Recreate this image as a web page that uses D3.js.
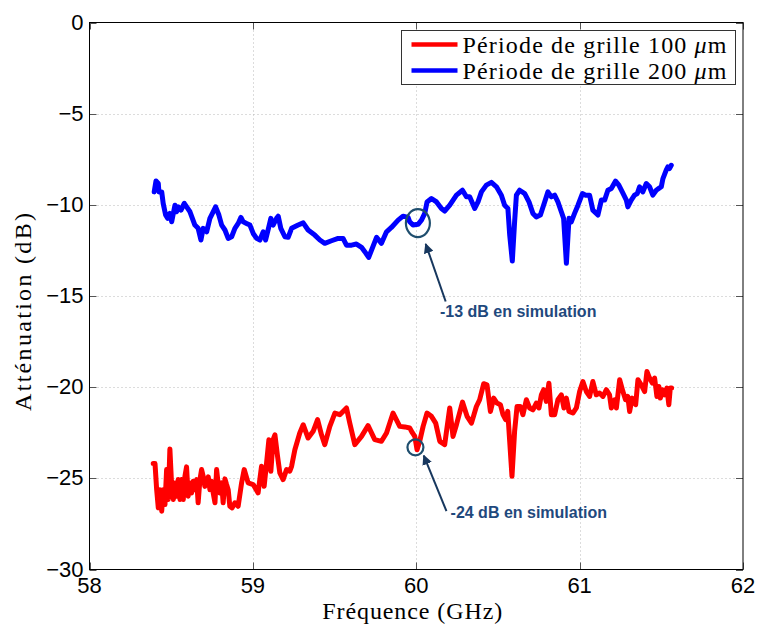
<!DOCTYPE html>
<html>
<head>
<meta charset="utf-8">
<script src="https://cdn.jsdelivr.net/npm/d3@7"></script>
<style>
  html, body { margin: 0; padding: 0; background: #fff; }
  svg { display: block; }
  .tick-label { font-family: "Liberation Sans", Arial, sans-serif; font-size: 22px; fill: #000; }
  .axis-title { font-family: "Liberation Serif", "Times New Roman", serif; font-size: 24px; fill: #000; }
  .legend-text { font-family: "Liberation Serif", "Times New Roman", serif; font-size: 24px; fill: #000; }
  .note { font-family: "Liberation Sans", Arial, sans-serif; font-size: 16px; font-weight: bold; fill: #1f497d; }
</style>
</head>
<body>
<div id="chart"></div>
<script>
// Période de grille 200 µm (bleu)
const freq200 = [58.396, 58.407, 58.421, 58.425, 58.442, 58.451, 58.466, 58.478, 58.492, 58.503,
  58.523, 58.533, 58.543, 58.560, 58.580, 58.601, 58.615, 58.645, 58.665, 58.682,
  58.696, 58.717, 58.737, 58.747, 58.772, 58.792, 58.809, 58.829, 58.849, 58.870,
  58.890, 58.910, 58.927, 58.941, 58.961, 58.982, 59.002, 59.023, 59.043, 59.063,
  59.078, 59.098, 59.110, 59.124, 59.145, 59.155, 59.171, 59.196, 59.216, 59.237,
  59.277, 59.308, 59.338, 59.379, 59.410, 59.440, 59.481, 59.522, 59.552, 59.573,
  59.604, 59.634, 59.665, 59.685, 59.709, 59.736, 59.757, 59.787, 59.818, 59.848,
  59.889, 59.919, 59.950, 59.960, 59.980, 60.011, 60.032, 60.052, 60.066, 60.093,
  60.124, 60.154, 60.174, 60.205, 60.246, 60.283, 60.307, 60.327, 60.358, 60.378,
  60.399, 60.429, 60.460, 60.491, 60.521, 60.541, 60.561, 60.572, 60.588, 60.602,
  60.613, 60.633, 60.664, 60.690, 60.714, 60.735, 60.760, 60.786, 60.806, 60.827,
  60.847, 60.867, 60.888, 60.902, 60.919, 60.935, 60.949, 60.969, 60.990, 61.017,
  61.037, 61.061, 61.081, 61.112, 61.133, 61.153, 61.173, 61.194, 61.220, 61.240,
  61.261, 61.286, 61.295, 61.316, 61.336, 61.353, 61.367, 61.387, 61.408, 61.428,
  61.448, 61.469, 61.485, 61.500, 61.510, 61.530, 61.540, 61.550, 61.561];
const att200 = [-9.29, -8.69, -8.83, -9.29, -9.29, -9.92, -10.56, -10.74, -10.47, -10.93,
  -10.02, -10.38, -10.11, -10.29, -9.92, -10.20, -10.38, -11.11, -11.29, -11.93,
  -11.29, -11.48, -10.74, -10.56, -10.11, -10.56, -11.11, -11.38, -11.84, -11.75,
  -11.29, -11.02, -10.69, -10.93, -11.02, -11.11, -11.57, -11.84, -11.93, -11.48,
  -11.93, -11.20, -10.74, -11.11, -10.74, -10.62, -11.29, -11.75, -11.78, -11.29,
  -11.11, -10.99, -11.38, -11.66, -11.93, -12.11, -11.97, -11.84, -11.84, -12.21,
  -12.21, -12.15, -12.33, -12.57, -12.88, -12.26, -11.78, -12.11, -11.48, -11.24,
  -10.84, -10.62, -10.69, -10.93, -11.11, -11.07, -10.84, -10.47, -9.84, -9.65,
  -9.84, -10.20, -10.34, -10.02, -9.47, -9.20, -9.56, -9.56, -10.20, -9.84,
  -9.29, -8.92, -8.77, -9.01, -9.47, -10.02, -10.20, -11.66, -13.08, -10.93,
  -9.47, -9.20, -9.38, -9.84, -10.47, -10.66, -10.56, -9.84, -9.29, -9.56,
  -9.47, -9.84, -10.38, -10.74, -13.21, -10.74, -10.93, -10.47, -10.02, -9.38,
  -9.47, -9.47, -10.29, -10.56, -9.74, -9.74, -9.20, -9.10, -8.70, -8.92,
  -9.29, -9.74, -10.11, -9.74, -9.47, -9.38, -9.01, -9.29, -8.83, -9.01,
  -9.47, -9.20, -9.10, -9.01, -8.56, -8.10, -7.92, -8.01, -7.83];

// Période de grille 100 µm (rouge)
const freq100 = [58.390, 58.401, 58.411, 58.421, 58.431, 58.442, 58.451, 58.462, 58.472, 58.482,
  58.492, 58.503, 58.513, 58.523, 58.533, 58.543, 58.554, 58.564, 58.574, 58.584,
  58.594, 58.604, 58.615, 58.625, 58.635, 58.645, 58.656, 58.665, 58.676, 58.686,
  58.696, 58.706, 58.717, 58.727, 58.737, 58.747, 58.757, 58.768, 58.778, 58.788,
  58.798, 58.809, 58.818, 58.829, 58.839, 58.849, 58.859, 58.873, 58.890, 58.910,
  58.931, 58.947, 58.971, 59.002, 59.032, 59.053, 59.069, 59.084, 59.098, 59.110,
  59.124, 59.135, 59.151, 59.165, 59.185, 59.206, 59.226, 59.237, 59.257, 59.287,
  59.308, 59.338, 59.369, 59.396, 59.420, 59.440, 59.471, 59.502, 59.532, 59.573,
  59.593, 59.624, 59.665, 59.705, 59.746, 59.787, 59.818, 59.858, 59.899, 59.930,
  59.960, 59.977, 59.991, 60.005, 60.021, 60.042, 60.066, 60.093, 60.119, 60.144,
  60.174, 60.205, 60.225, 60.246, 60.283, 60.311, 60.338, 60.368, 60.388, 60.413,
  60.433, 60.454, 60.474, 60.494, 60.515, 60.531, 60.547, 60.560, 60.572, 60.586,
  60.602, 60.617, 60.637, 60.653, 60.674, 60.694, 60.714, 60.735, 60.751, 60.766,
  60.780, 60.796, 60.812, 60.827, 60.847, 60.867, 60.888, 60.904, 60.919, 60.935,
  60.959, 60.980, 61.000, 61.020, 61.041, 61.061, 61.081, 61.102, 61.122, 61.143,
  61.163, 61.183, 61.194, 61.214, 61.225, 61.245, 61.265, 61.281, 61.295, 61.306,
  61.322, 61.343, 61.357, 61.377, 61.398, 61.412, 61.428, 61.445, 61.459, 61.473,
  61.485, 61.494, 61.506, 61.520, 61.534, 61.546, 61.555, 61.563];
const att100 = [-24.19, -24.19, -25.62, -26.62, -25.62, -26.80, -25.62, -26.44, -24.52, -26.16,
  -23.39, -25.44, -26.16, -25.25, -25.98, -25.07, -26.16, -25.07, -26.16, -24.89,
  -24.37, -25.98, -25.25, -25.80, -25.16, -25.62, -25.07, -26.34, -25.07, -24.52,
  -24.89, -25.44, -25.25, -24.92, -25.62, -25.16, -25.80, -26.34, -24.52, -25.34,
  -25.80, -25.25, -26.34, -25.03, -25.34, -25.62, -26.53, -26.62, -26.34, -26.53,
  -25.25, -24.52, -25.25, -25.34, -25.80, -24.34, -25.44, -24.15, -22.88, -24.61,
  -22.88, -22.61, -23.79, -24.70, -25.07, -24.52, -24.61, -24.34, -23.43, -22.51,
  -22.06, -22.79, -22.42, -21.78, -22.61, -23.15, -22.15, -21.42, -21.51, -21.14,
  -21.97, -23.15, -22.70, -22.11, -22.88, -22.97, -22.51, -21.42, -22.15, -22.18,
  -22.24, -22.51, -22.70, -23.43, -22.97, -22.15, -21.42, -21.60, -21.97, -22.97,
  -23.15, -21.14, -22.70, -22.06, -20.82, -21.60, -21.97, -21.06, -20.69, -19.81,
  -19.87, -21.33, -20.60, -20.87, -20.96, -21.51, -21.78, -21.33, -22.97, -24.89,
  -22.42, -21.06, -21.06, -21.51, -20.69, -21.14, -21.24, -20.87, -21.14, -20.42,
  -20.14, -20.78, -19.78, -21.51, -21.51, -20.69, -20.42, -21.14, -20.60, -21.33,
  -21.42, -21.14, -20.24, -19.69, -20.24, -20.51, -19.69, -20.42, -20.32, -20.51,
  -20.14, -20.42, -21.14, -20.69, -21.14, -19.59, -20.24, -20.69, -20.51, -21.33,
  -20.60, -20.96, -19.59, -19.87, -20.24, -19.14, -19.50, -19.78, -19.50, -20.51,
  -19.96, -20.60, -20.14, -20.42, -20.05, -20.96, -20.05, -20.05];

const xTicks = [58, 59, 60, 61, 62];
const yTicks = [0, -5, -10, -15, -20, -25, -30];
const seriesNames = ["Période de grille 100 ", "Période de grille 200 "];
const seriesColors = ["#ff0000", "#0000ff"];
const notes = ["-13 dB en simulation", "-24 dB en simulation"];

const width = 758, height = 628;
const margin = { top: 22.5, right: 15, bottom: 58.5, left: 89.5 };

const svg = d3.select("#chart").append("svg")
  .attr("width", width)
  .attr("height", height);

const x = d3.scaleLinear().domain([58, 62]).range([margin.left, width - margin.right]);
const y = d3.scaleLinear().domain([-30, 0]).range([height - margin.bottom, margin.top]);

// grid
const grid = svg.append("g").attr("stroke", "#b8b8b8").attr("stroke-width", 1)
  .attr("stroke-dasharray", "1,3");
grid.selectAll(".gx").data(xTicks.slice(1, -1)).join("line")
  .attr("x1", d => Math.round(x(d)) + 0.5).attr("x2", d => Math.round(x(d)) + 0.5)
  .attr("y1", y(0)).attr("y2", y(-30));
grid.selectAll(".gy").data(yTicks.slice(1, -1)).join("line")
  .attr("y1", d => Math.round(y(d)) + 0.5).attr("y2", d => Math.round(y(d)) + 0.5)
  .attr("x1", x(58)).attr("x2", x(62));

// inner ticks
const ticks = svg.append("g").attr("stroke", "#555").attr("stroke-width", 1);
xTicks.forEach(d => {
  const px = Math.round(x(d)) + 0.5;
  ticks.append("line").attr("x1", px).attr("x2", px).attr("y1", y(-30)).attr("y2", y(-30) - 7);
  ticks.append("line").attr("x1", px).attr("x2", px).attr("y1", y(0)).attr("y2", y(0) + 7);
});
yTicks.forEach(d => {
  const py = Math.round(y(d)) + 0.5;
  ticks.append("line").attr("y1", py).attr("y2", py).attr("x1", x(58)).attr("x2", x(58) + 7);
  ticks.append("line").attr("y1", py).attr("y2", py).attr("x1", x(62)).attr("x2", x(62) - 7);
});

// data lines
const line = d3.line().x(d => x(d[0])).y(d => y(d[1]));
const series = [d3.zip(freq100, att100), d3.zip(freq200, att200)];
svg.append("g").selectAll("path").data(series).join("path")
  .attr("d", line)
  .attr("fill", "none")
  .attr("stroke", (d, i) => seriesColors[i])
  .attr("stroke-width", 5)
  .attr("stroke-linejoin", "round")
  .attr("stroke-linecap", "round");

// axes box
svg.append("rect")
  .attr("x", x(58)).attr("y", y(0))
  .attr("width", x(62) - x(58)).attr("height", y(-30) - y(0))
  .attr("fill", "none").attr("stroke", "#000").attr("stroke-width", 1);

// tick labels
const fmt = d3.format("d");
svg.append("g").selectAll("text").data(xTicks).join("text")
  .attr("class", "tick-label")
  .attr("x", d => x(d)).attr("y", y(-30) + 23)
  .attr("text-anchor", "middle")
  .text(fmt);
svg.append("g").selectAll("text").data(yTicks).join("text")
  .attr("class", "tick-label")
  .attr("x", x(58) - 6).attr("y", d => y(d) + 7)
  .attr("text-anchor", "end")
  .text(fmt);

// axis titles
svg.append("text").attr("class", "axis-title")
  .attr("x", (x(58) + x(62)) / 2 - 4).attr("y", 619)
  .attr("text-anchor", "middle")
  .attr("textLength", 180).attr("lengthAdjust", "spacing")
  .text("Fréquence (GHz)");
svg.append("text").attr("class", "axis-title")
  .attr("transform", `translate(31,${(y(0) + y(-30)) / 2 + 16}) rotate(-90)`)
  .attr("text-anchor", "middle")
  .attr("textLength", 198).attr("lengthAdjust", "spacing")
  .text("Atténuation (dB)");

// legend
const lg = svg.append("g").attr("transform", "translate(401.5,30.5)");
lg.append("rect").attr("width", 334).attr("height", 54)
  .attr("fill", "#fff").attr("stroke", "#333").attr("stroke-width", 1);
seriesNames.forEach((name, i) => {
  const ly = 14 + i * 26;
  lg.append("line").attr("x1", 10).attr("x2", 56).attr("y1", ly).attr("y2", ly)
    .attr("stroke", seriesColors[i]).attr("stroke-width", 4.5);
  const t = lg.append("text").attr("class", "legend-text").attr("x", 61).attr("y", ly + 8)
    .attr("textLength", 264).attr("lengthAdjust", "spacing");
  t.append("tspan").text(name);
  t.append("tspan").attr("font-style", "italic").text("μ");
  t.append("tspan").text("m");
});

// annotations
const noteColor = "#1f4e6e";
const defs = svg.append("defs");
defs.append("marker").attr("id", "arrow")
  .attr("viewBox", "0 0 10 10").attr("refX", 9).attr("refY", 5)
  .attr("markerWidth", 5).attr("markerHeight", 5).attr("orient", "auto")
  .append("path").attr("d", "M0,0 L10,5 L0,10 z").attr("fill", "#17375e");

const ann = svg.append("g");
ann.append("ellipse")
  .attr("cx", x(60.01)).attr("cy", y(-11.0)).attr("rx", 12).attr("ry", 14)
  .attr("fill", "none").attr("stroke", noteColor).attr("stroke-width", 2.2);
ann.append("circle")
  .attr("cx", x(59.995)).attr("cy", y(-23.3)).attr("r", 8)
  .attr("fill", "none").attr("stroke", noteColor).attr("stroke-width", 2.2);
ann.append("line")
  .attr("x1", x(60.18)).attr("y1", y(-15.3)).attr("x2", x(60.058)).attr("y2", y(-12.15))
  .attr("stroke", "#17375e").attr("stroke-width", 2).attr("marker-end", "url(#arrow)");
ann.append("line")
  .attr("x1", x(60.185)).attr("y1", y(-26.8)).attr("x2", x(60.046)).attr("y2", y(-23.75))
  .attr("stroke", "#17375e").attr("stroke-width", 2).attr("marker-end", "url(#arrow)");
ann.append("text").attr("class", "note")
  .attr("x", x(60.145)).attr("y", y(-16.15)).text(notes[0]);
ann.append("text").attr("class", "note")
  .attr("x", x(60.21)).attr("y", y(-27.2)).text(notes[1]);
</script>
</body>
</html>
